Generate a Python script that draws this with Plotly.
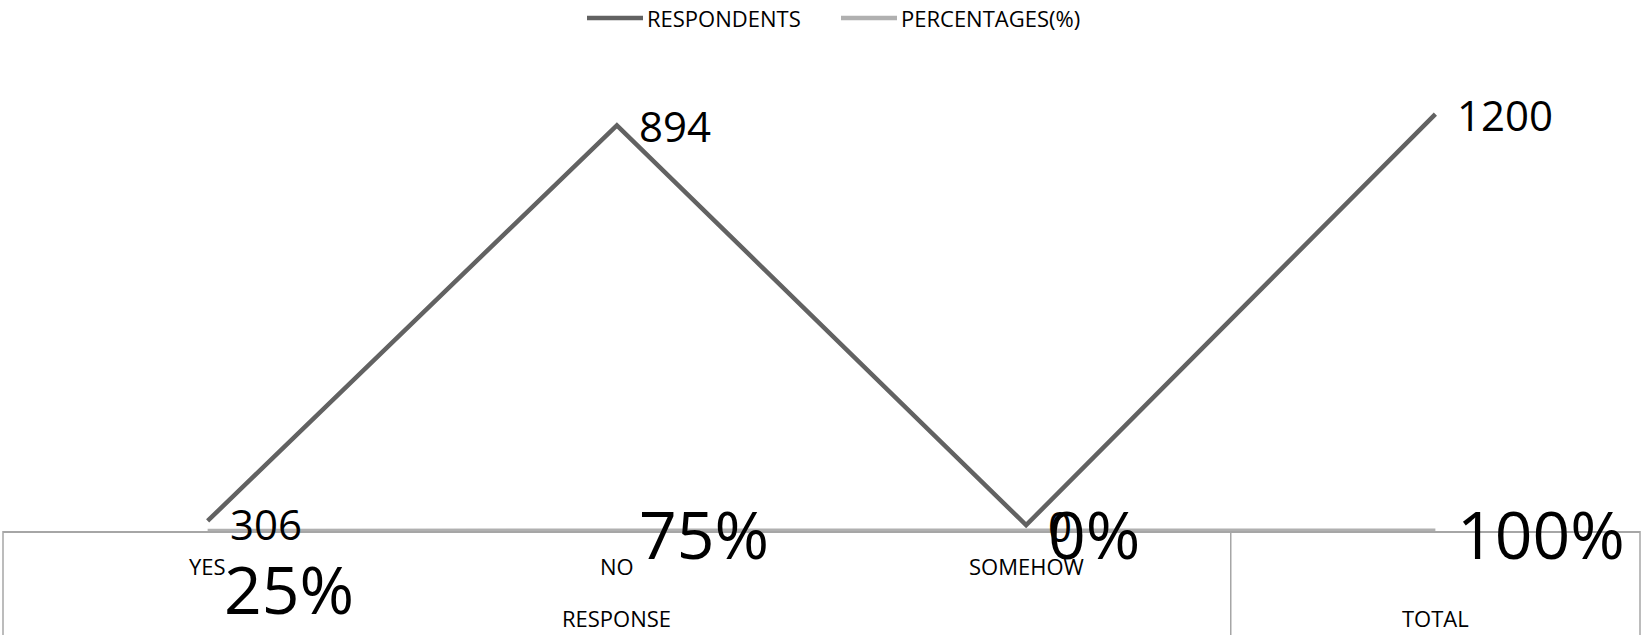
import plotly.graph_objects as go

# ---------------- data ----------------
categories = ["YES", "NO", "SOMEHOW", "TOTAL"]
sub_labels = ["YES", "NO", "SOMEHOW", ""]
group_labels = ["RESPONSE", "TOTAL"]
group_centers = ["NO", "TOTAL"]
respondents = [306, 894, 0, 1200]            # values shown in the data labels
respondent_heights = [29, 1168, 17, 1200]    # heights of the line as drawn in the picture
percentages = [0.25, 0.75, 0.0, 1.0]
series_names = ["RESPONDENTS", "PERCENTAGES(%)"]

DARK = "#626262"
LIGHT = "#b0b0b0"
BOX = "#a6a6a6"
FONT = "Open Sans"

W, H = 1642, 635
ML, MR, MT, MB = 3, 2, 60, 104
PH = H - MT - MB
AXIS_PX = H - MB


def py(pix):
    return (AXIS_PX - pix) / PH


def px(pix):
    return (pix - ML) / (W - ML - MR)


fig = go.Figure()
fig.add_trace(go.Scatter(x=categories, y=respondent_heights, mode="lines",
                         line=dict(color=DARK, width=4.5), name=series_names[0],
                         cliponaxis=False, showlegend=False))
fig.add_trace(go.Scatter(x=categories, y=percentages, mode="lines",
                         line=dict(color=LIGHT, width=4.5), name=series_names[1],
                         cliponaxis=False, showlegend=False))

ann = []
# respondents data labels
r_shift = [-3, 0, 0, 0]
for c, v, h, ys in zip(categories, respondents, respondent_heights, r_shift):
    ann.append(dict(x=c, y=h, xref="x", yref="y", text=str(v), showarrow=False,
                    xanchor="left", yanchor="middle", xshift=20, yshift=ys,
                    font=dict(family=FONT, size=42, color="black")))
# percentage data labels
p_xshift = [14, 20, 20, 20]
p_yshift = [-57, -2, -2, -2]
for c, v, xs, ys in zip(categories, percentages, p_xshift, p_yshift):
    ann.append(dict(x=c, y=v, xref="x", yref="y", text=f"{round(v*100)}%", showarrow=False,
                    xanchor="left", yanchor="middle", xshift=xs, yshift=ys,
                    font=dict(family=FONT, size=66, color="black")))
# category labels (level 1)
for c, t in zip(categories, sub_labels):
    if t:
        ann.append(dict(x=c, y=py(566), xref="x", yref="paper", text=t, showarrow=False,
                        xanchor="center", yanchor="middle",
                        font=dict(family=FONT, size=22, color="black")))
# group labels (level 2)
for c, t in zip(group_centers, group_labels):
    ann.append(dict(x=c, y=py(618), xref="x", yref="paper", text=t, showarrow=False,
                    xanchor="center", yanchor="middle",
                    font=dict(family=FONT, size=22, color="black")))

# legend (manual)
legend_items = [(series_names[0], DARK, 587, 643, 645), (series_names[1], LIGHT, 841, 897, 899)]
shapes = []
for name, col, x0, x1, tx in legend_items:
    shapes.append(dict(type="line", xref="paper", yref="paper", x0=px(x0), x1=px(x1),
                       y0=py(18), y1=py(18), line=dict(color=col, width=4.5)))
    ann.append(dict(x=px(tx), y=py(18.5), xref="paper", yref="paper", text=name, showarrow=False,
                    xanchor="left", yanchor="middle",
                    font=dict(family=FONT, size=22, color="black")))

# multi-level axis box
n = len(categories)
shapes.append(dict(type="line", xref="paper", yref="paper", x0=0, x1=0, y0=0, y1=py(H),
                   line=dict(color=BOX, width=1.5)))
shapes.append(dict(type="line", xref="paper", yref="paper", x0=1, x1=1, y0=0, y1=py(H),
                   line=dict(color=BOX, width=1.5)))
shapes.append(dict(type="line", xref="paper", yref="paper", x0=(n - 1) / n, x1=(n - 1) / n,
                   y0=0, y1=py(H), line=dict(color=BOX, width=1.5)))

fig.update_layout(
    width=W, height=H,
    margin=dict(l=ML, r=MR, t=MT, b=MB, pad=0),
    paper_bgcolor="white", plot_bgcolor="white",
    showlegend=False,
    xaxis=dict(type="category", categoryorder="array", categoryarray=categories,
               range=[-0.5, n - 0.5], showgrid=False, zeroline=False,
               showline=True, linecolor=BOX, linewidth=1.5, ticks="", showticklabels=False),
    yaxis=dict(range=[0, 1356], visible=False, showgrid=False, zeroline=False),
    annotations=ann,
    shapes=shapes,
)

fig.write_html("out.html")
